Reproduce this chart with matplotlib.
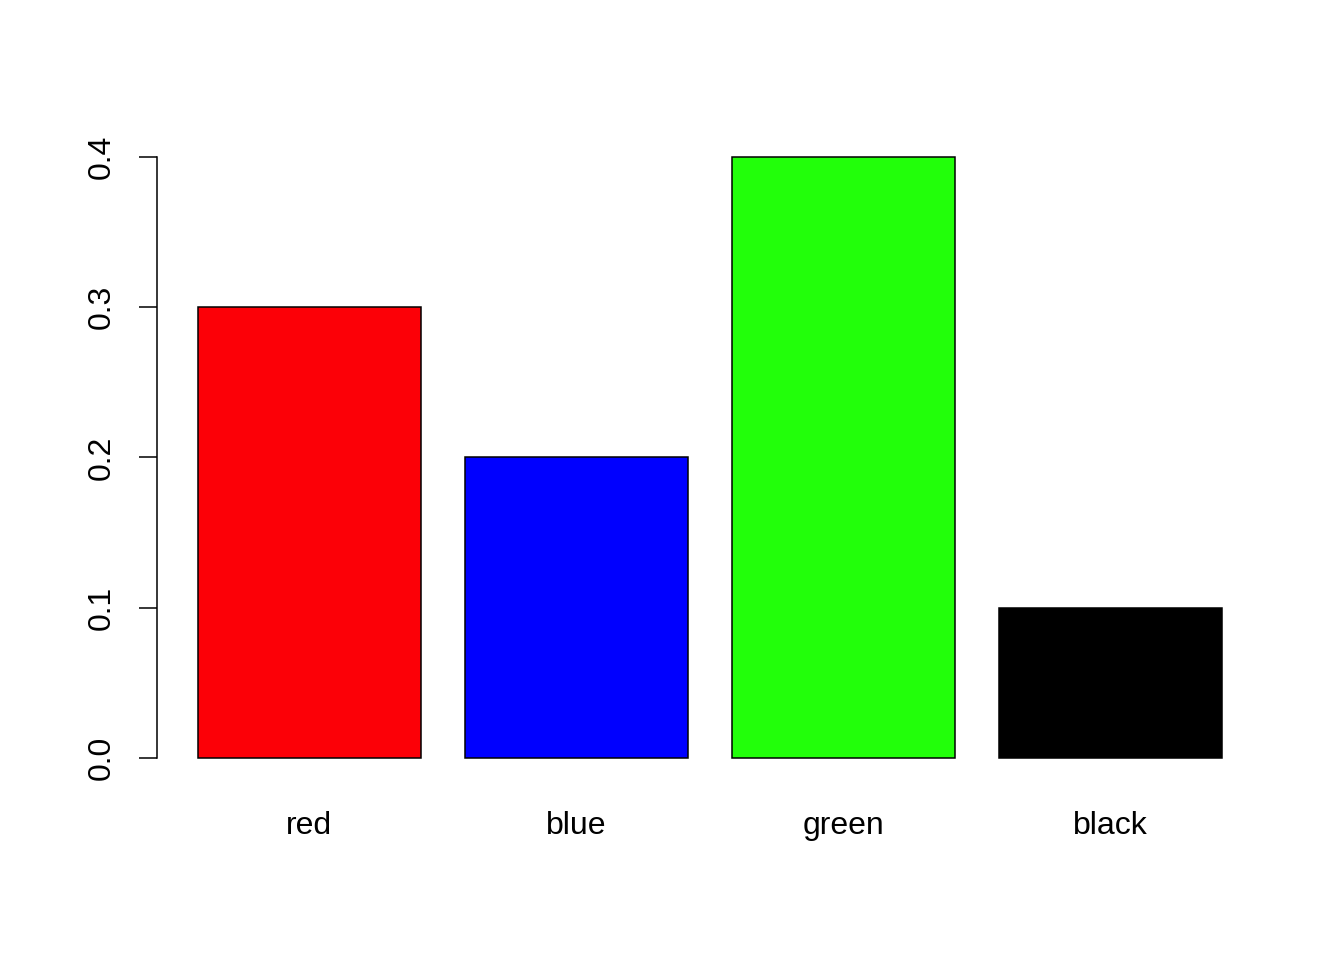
import matplotlib
matplotlib.use('Agg')
import matplotlib.pyplot as plt

# values
categories = ['red', 'blue', 'green', 'black']
values = [0.3, 0.2, 0.4, 0.1]
bar_colors = ['#FC0007', '#0000FF', '#22FF0A', '#000000']
yticks = [0.0, 0.1, 0.2, 0.3, 0.4]

plt.rcParams['font.family'] = ['Liberation Sans', 'DejaVu Sans']

fig = plt.figure(figsize=(13.44, 9.6), dpi=100)
ax = fig.add_axes([157/1344, 178/960, (1263-157)/1344, (782-133)/960])

# R barplot geometry: width 1, space 0.2
lefts = [0.2 + 1.2*i for i in range(len(values))]
centers = [l + 0.5 for l in lefts]
ax.bar(centers, values, width=1.0, color=bar_colors, edgecolor='black', linewidth=1.1)

ax.set_xlim(0.2 - 0.184, 4.8 + 0.184)
ax.set_ylim(-0.016, 0.416)

for s in ['top', 'right', 'bottom']:
    ax.spines[s].set_visible(False)
ax.spines['left'].set_bounds(0, 0.4)
ax.spines['left'].set_linewidth(1.1)

ax.set_yticks(yticks)
ax.set_yticklabels([f'{t:.1f}' for t in yticks], rotation=90, va='center')
ax.tick_params(axis='y', length=13, width=1.1, pad=16, labelsize=23, direction='out')

ax.set_xticks(centers)
ax.set_xticklabels(categories)
ax.tick_params(axis='x', length=0, pad=21, labelsize=23)

fig.savefig('out.png', dpi=100, facecolor='white')
